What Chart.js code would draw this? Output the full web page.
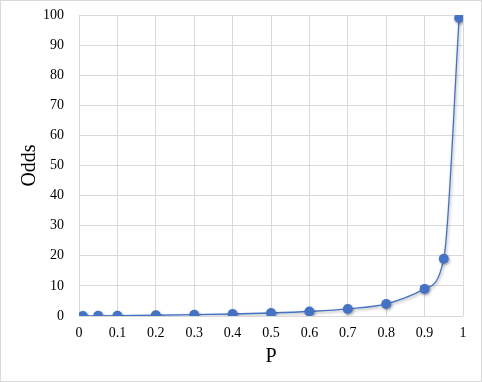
<!DOCTYPE html>
<html>
<head>
<meta charset="utf-8">
<script src="https://cdn.jsdelivr.net/npm/chart.js@4/dist/chart.umd.min.js"></script>
<style>
  html,body{margin:0;padding:0;background:#fff}
  #wrap{position:relative;width:480px;height:380px;border:1px solid #d9d9d9}
</style>
</head>
<body>
<div id="wrap"><canvas id="chart" width="480" height="380"></canvas></div>
<script>
const probs=[0.01,0.05,0.1,0.2,0.3,0.4,0.5,0.6,0.7,0.8,0.9,0.95,0.99];
const odds=[0.0101,0.0526,0.1111,0.25,0.4286,0.6667,1,1.5,2.3333,4,9,19,99];
const xTicks=[0,0.1,0.2,0.3,0.4,0.5,0.6,0.7,0.8,0.9,1];
const yTicks=[0,10,20,30,40,50,60,70,80,90,100];

const font="'Liberation Serif','Times New Roman',serif";

/* soft shadow under the line and markers */
const shadow={
  id:"shadow",
  beforeDatasetsDraw(c){c.ctx.save();c.ctx.shadowColor="rgba(0,0,0,0.35)";c.ctx.shadowBlur=3;c.ctx.shadowOffsetX=1;c.ctx.shadowOffsetY=1.5;},
  afterDatasetsDraw(c){c.ctx.restore();}
};

new Chart(document.getElementById("chart"),{
  type:"scatter",
  data:{datasets:[{
    data:probs.map((p,i)=>({x:p,y:odds[i]})),
    showLine:true,
    borderColor:"#4472C4",
    borderWidth:1.3,
    cubicInterpolationMode:"monotone",
    pointRadius:5,
    pointBackgroundColor:"#4472C4",
    pointBorderColor:"#4472C4",
    pointBorderWidth:0
  }]},
  options:{
    responsive:false,
    animation:false,
    layout:{padding:{top:14,right:18,bottom:12,left:0}},
    plugins:{legend:{display:false},tooltip:{enabled:false}},
    scales:{
      x:{
        type:"linear",min:0,max:1,
        afterBuildTicks:s=>{s.ticks=xTicks.map(v=>({value:v}));},
        afterFit:s=>{s.height=53;s.paddingLeft=0;s.paddingRight=0;},
        grid:{color:"#d9d9d9",drawTicks:false},
        border:{display:false},
        ticks:{padding:9,color:"#000",font:{family:font,size:14},maxRotation:0,autoSkip:false,callback:v=>String(v)},
        title:{display:true,text:"P",color:"#000",font:{family:font,size:20},padding:{top:2,bottom:0}}
      },
      y:{
        min:0,max:100,
        afterBuildTicks:s=>{s.ticks=yTicks.map(v=>({value:v}));},
        afterFit:s=>{s.width=78;s.paddingTop=0;s.paddingBottom=0;},
        grid:{color:"#d9d9d9",drawTicks:false},
        border:{display:false},
        ticks:{padding:15,color:"#000",font:{family:font,size:14}},
        title:{display:true,text:"Odds",color:"#000",font:{family:font,size:20},padding:{top:17,bottom:0}}
      }
    }
  },
  plugins:[shadow]
});
</script>
</body>
</html>
